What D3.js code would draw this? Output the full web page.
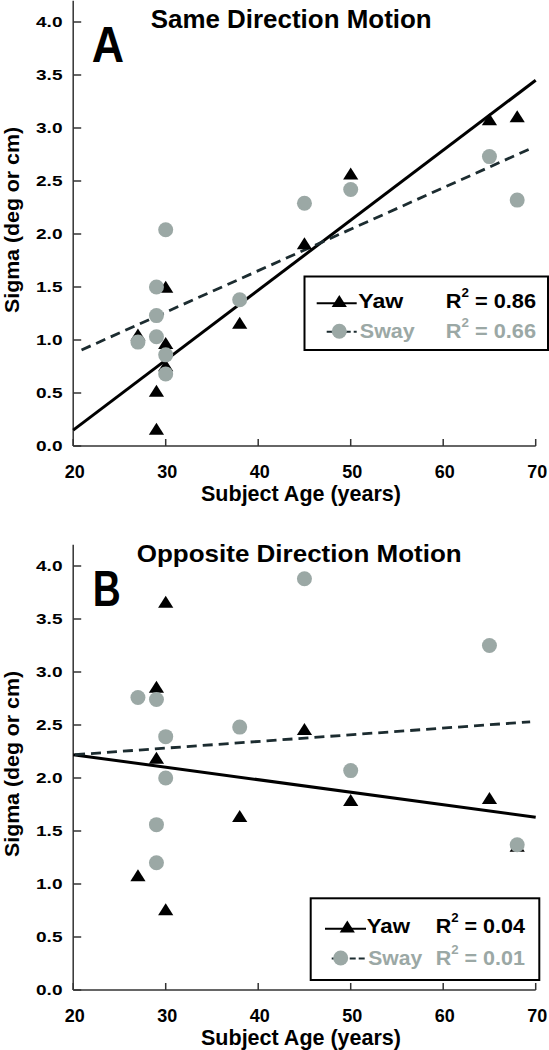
<!DOCTYPE html>
<html>
<head>
<meta charset="utf-8">
<script src="https://cdn.jsdelivr.net/npm/d3@7"></script>
<style>
  html, body { margin: 0; padding: 0; background: #fff; }
  svg { display: block; }
  text { font-family: "Liberation Sans", Arial, Helvetica, sans-serif; font-weight: bold; }
</style>
</head>
<body>
<svg id="chart" width="549" height="1050"></svg>
<script>
// ---------- Data ----------
const xTicks = [20, 30, 40, 50, 60, 70];
const xTickLabels = ["20", "30", "40", "50", "60", "70"];
const yTicks = [0, 0.5, 1, 1.5, 2, 2.5, 3, 3.5, 4];
const yTickLabels = ["0.0", "0.5", "1.0", "1.5", "2.0", "2.5", "3.0", "3.5", "4.0"];

// Panel A: Same Direction Motion
const yawAgesA   = [27, 29, 29, 30, 30, 30, 38, 45, 50, 65, 68];
const yawSigmaA  = [1.05, 0.52, 0.16, 1.50, 0.97, 0.76, 1.16, 1.91, 2.57, 3.08, 3.11];
const swayAgesA  = [27, 29, 29, 29, 30, 30, 30, 38, 45, 50, 65, 68];
const swaySigmaA = [0.98, 1.50, 1.23, 1.03, 2.04, 0.86, 0.68, 1.38, 2.29, 2.42, 2.73, 2.32];
const yawFitA  = [[20, 0.15], [70, 3.45]];
const swayFitA = [[20.9, 0.906], [69.3, 2.80]];
const r2A = ["0.86", "0.66"];

// Panel B: Opposite Direction Motion
const yawAgesB   = [27, 29, 29, 30, 30, 38, 45, 50, 65, 68];
const yawSigmaB  = [1.08, 2.86, 2.19, 3.66, 0.76, 1.64, 2.46, 1.79, 1.81, 1.36];
const swayAgesB  = [27, 29, 29, 29, 30, 30, 38, 45, 50, 65, 68];
const swaySigmaB = [2.76, 2.74, 1.56, 1.20, 2.39, 2.00, 2.48, 3.88, 2.07, 3.25, 1.37];
const yawFitB  = [[20, 2.22], [70, 1.63]];
const swayFitB = [[20.2, 2.22], [69.4, 2.53]];
const r2B = ["0.04", "0.01"];

const seriesNames = ["Yaw", "Sway"];

// ---------- Styles ----------
const GRAY = "#9ba8a5";
const DASH = "#1c2c30";
const AXIS = "#333";

const svg = d3.select("#chart");
const x = d3.scaleLinear().domain([20, 70]).range([73.2, 535.7]);

function txt(g, s, px, py, size, o = {}) {
  const t = g.append("text").attr("x", px).attr("y", py)
    .attr("font-size", size).attr("fill", o.fill || "#000")
    .attr("text-anchor", o.anchor || "start").text(s);
  if (o.len) t.attr("textLength", o.len).attr("lengthAdjust", "spacingAndGlyphs");
  return t;
}

function r2text(g, val, px, py, len, fill) {
  const t = g.append("text").attr("x", px).attr("y", py).attr("font-size", 19.5)
    .attr("fill", fill).attr("textLength", len).attr("lengthAdjust", "spacingAndGlyphs");
  t.append("tspan").text("R");
  t.append("tspan").attr("dy", -11).attr("font-size", 12).text("2");
  t.append("tspan").attr("dy", 11).text(" = " + val);
}

const triPath = "M0,-6.2L7.6,5.8L-7.6,5.8Z";

function panel(cfg) {
  const g = svg.append("g");
  const y = d3.scaleLinear().domain([0, 4.2]).range([cfg.y0, cfg.y0 - 445.2]);
  const axY = y(0);

  // axes
  g.append("line").attr("x1", x(20)).attr("x2", x(20)).attr("y1", y(0)).attr("y2", y(4.2))
    .attr("stroke", AXIS).attr("stroke-width", 1.5);
  g.append("line").attr("x1", x(20)).attr("x2", x(70)).attr("y1", axY).attr("y2", axY)
    .attr("stroke", AXIS).attr("stroke-width", 1.5);
  xTicks.forEach((t, i) => {
    g.append("line").attr("x1", x(t)).attr("x2", x(t)).attr("y1", axY).attr("y2", axY - 7)
      .attr("stroke", AXIS).attr("stroke-width", 1.5);
    txt(g, xTickLabels[i], x(t) + 1.5, axY + 31.5, 18, { anchor: "middle" });
  });
  yTicks.forEach((t, i) => {
    g.append("line").attr("x1", x(20)).attr("x2", x(20) + 8).attr("y1", y(t)).attr("y2", y(t))
      .attr("stroke", AXIS).attr("stroke-width", 1.5);
    txt(g, yTickLabels[i], 36, y(t) + 5.3, 15.5, { len: 26.5 });
  });

  // axis titles
  txt(g, "Subject Age (years)", 301, axY + 55, 21.5, { anchor: "middle" });
  g.append("text").attr("transform", `translate(19,${axY - 226}) rotate(-90)`)
    .attr("text-anchor", "middle").attr("font-size", 20.5)
    .attr("textLength", 186).attr("lengthAdjust", "spacingAndGlyphs").text("Sigma (deg or cm)");

  // title + panel letter
  txt(g, cfg.title, cfg.titleX, cfg.titleY, cfg.titleSize, { len: cfg.titleLen });
  txt(g, cfg.letter, cfg.letterX, cfg.letterY, 50, { len: cfg.letterLen });

  // fit lines
  const line = d3.line().x(d => x(d[0])).y(d => y(d[1]));
  g.append("path").attr("d", line(cfg.yawFit)).attr("fill", "none")
    .attr("stroke", "#000").attr("stroke-width", 3);
  g.append("path").attr("d", line(cfg.swayFit)).attr("fill", "none")
    .attr("stroke", DASH).attr("stroke-width", 2.8).attr("stroke-dasharray", "10,6");

  // markers
  g.selectAll(".tri").data(cfg.yawAges.map((a, i) => [a, cfg.yawSigma[i]])).enter()
    .append("path").attr("d", triPath)
    .attr("transform", d => `translate(${x(d[0])},${y(d[1])})`).attr("fill", "#000");
  g.selectAll(".cir").data(cfg.swayAges.map((a, i) => [a, cfg.swaySigma[i]])).enter()
    .append("circle").attr("cx", d => x(d[0])).attr("cy", d => y(d[1])).attr("r", 7.5)
    .attr("fill", GRAY);

  // legend
  const L = cfg.legend;
  g.append("rect").attr("x", L.x).attr("y", L.y).attr("width", L.w).attr("height", L.h)
    .attr("fill", "#fff").attr("stroke", "#000").attr("stroke-width", 2);
  // yaw row
  g.append("line").attr("x1", L.lx1).attr("x2", L.lx2).attr("y1", L.r1 - 4.5).attr("y2", L.r1 - 4.5)
    .attr("stroke", "#000").attr("stroke-width", 2);
  g.append("path").attr("d", triPath).attr("transform", `translate(${L.mx},${L.r1 - 6.5})`).attr("fill", "#000");
  txt(g, seriesNames[0], L.tx, L.r1, 19.5, { len: L.yawLen });
  r2text(g, cfg.r2[0], L.rx, L.r1, L.r2Len, "#000");
  // sway row
  g.append("line").attr("x1", L.sx1).attr("x2", L.lx2).attr("y1", L.r2 - 6.5).attr("y2", L.r2 - 6.5)
    .attr("stroke", DASH).attr("stroke-width", 2).attr("stroke-dasharray", "6,3");
  g.append("circle").attr("cx", L.smx).attr("cy", L.r2 - 7).attr("r", 7.5).attr("fill", GRAY);
  txt(g, seriesNames[1], L.tx + 1.5, L.r2, 19.5, { len: L.swayLen, fill: GRAY });
  r2text(g, cfg.r2[1], L.rx, L.r2, L.r2Len, GRAY);
}

panel({
  y0: 446, title: "Same Direction Motion", titleX: 150.7, titleY: 28, titleSize: 25, titleLen: 281,
  letter: "A", letterX: 91.7, letterY: 61.7, letterLen: 32.3,
  yawAges: yawAgesA, yawSigma: yawSigmaA, swayAges: swayAgesA, swaySigma: swaySigmaA,
  yawFit: yawFitA, swayFit: swayFitA, r2: r2A,
  legend: { x: 304.5, y: 276.5, w: 243.5, h: 73.5, r1: 307.7, r2: 338.3,
    lx1: 316.7, lx2: 356.7, sx1: 326.7, mx: 339.3, smx: 339.3, tx: 358.3,
    yawLen: 45, swayLen: 55, rx: 445.7, r2Len: 90.3 }
});

panel({
  y0: 990, title: "Opposite Direction Motion", titleX: 136.7, titleY: 562, titleSize: 24, titleLen: 325,
  letter: "B", letterX: 92.7, letterY: 605.7, letterLen: 28,
  yawAges: yawAgesB, yawSigma: yawSigmaB, swayAges: swayAgesB, swaySigma: swaySigmaB,
  yawFit: yawFitB, swayFit: swayFitB, r2: r2B,
  legend: { x: 310.7, y: 898.3, w: 228.6, h: 81.7, r1: 933.3, r2: 965,
    lx1: 325, lx2: 366, sx1: 331.7, mx: 347.3, smx: 340.7, tx: 366.7,
    yawLen: 43.3, swayLen: 54, rx: 435.7, r2Len: 89.3 }
});
</script>
</body>
</html>
